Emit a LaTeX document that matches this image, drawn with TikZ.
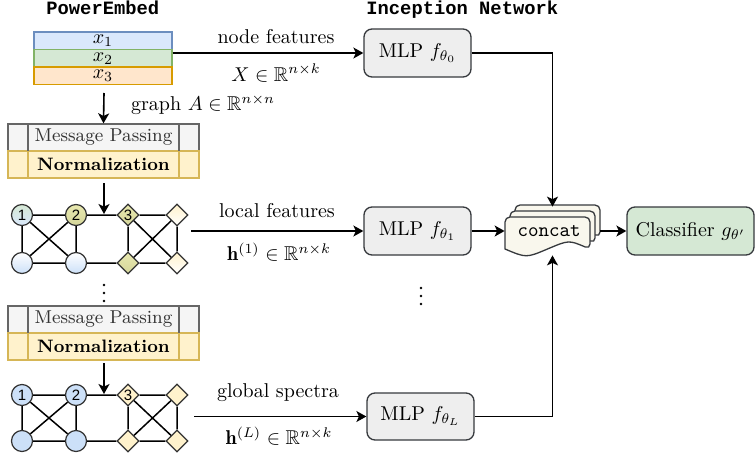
\documentclass[tikz,border=0pt]{standalone}
\usepackage{amsmath,amssymb}
\usepackage{fontspec}
\newfontfamily\arialfont{Liberation Sans}
\newfontfamily\courfont{Liberation Mono}
\usetikzlibrary{arrows.meta,shapes.geometric,calc}
\definecolor{boxline}{HTML}{36393D}
\definecolor{mlpfill}{HTML}{EEEEEE}
\definecolor{clsfill}{HTML}{D5E8D4}
\definecolor{mpfill}{HTML}{F5F5F5}
\definecolor{mpline}{HTML}{666666}
\definecolor{mptext}{HTML}{333333}
\definecolor{normfill}{HTML}{FFF2CC}
\definecolor{normline}{HTML}{D6B656}
\definecolor{bluef}{HTML}{DAE8FC}
\definecolor{bluel}{HTML}{6C8EBF}
\definecolor{greenf}{HTML}{D5E8D4}
\definecolor{greenl}{HTML}{82B366}
\definecolor{orangef}{HTML}{FFE6CC}
\definecolor{orangel}{HTML}{D79B00}
\definecolor{docfill}{HTML}{F9F7ED}
\definecolor{gline}{HTML}{333333}
\definecolor{gblue}{HTML}{CCE0F8}
\definecolor{olive}{HTML}{E8E8B0}
\definecolor{olivedk}{HTML}{D5D69A}
\newcommand{\docpath}[4]{% x y w h
  \path[draw=boxline, fill=docfill, line width=0.65pt, rounded corners=2.5pt]
    (#1,#2+#4-4) -- (#1,#2) -- (#1+#3,#2) -- (#1+#3,#2+#4-4) [sharp corners]
    .. controls (#1+0.75*#3,#2+#4-13) .. (#1+0.5*#3,#2+#4-4)
    .. controls (#1+0.25*#3,#2+#4+5) .. (#1,#2+#4-4) -- cycle;}
\begin{document}
\begin{tikzpicture}[x=0.5pt,y=-0.5pt,
  arr/.style={draw=black, line width=0.8pt, -{Stealth[length=5pt,width=5.5pt,inset=1.3pt]}},
  mlp/.style={draw=boxline, fill=mlpfill, rounded corners=4pt, line width=0.65pt,
    minimum width=53.5pt, minimum height=24pt, inner sep=0pt, font=\fontsize{10}{12}\selectfont},
  lbl/.style={inner sep=0pt, font=\fontsize{10}{12}\selectfont},
  title/.style={inner sep=0pt, anchor=base west, font=\courfont\bfseries\fontsize{9.4}{11}\selectfont},
  stackrow/.style={line width=0.65pt, minimum width=69pt, minimum height=8.75pt, inner sep=0pt, font=\fontsize{10}{11}\selectfont},
  mprow/.style={draw=mpline, fill=mpfill, line width=0.65pt, minimum width=95.5pt, minimum height=13.5pt,
    inner sep=0pt, text=mptext, font=\fontsize{9.3}{11}\selectfont},
  normrow/.style={draw=normline, fill=normfill, line width=0.65pt, minimum width=95.5pt, minimum height=13.5pt,
    inner sep=0pt, font=\bfseries\fontsize{9}{11}\selectfont},
  gcirc/.style={circle, draw=gline, line width=0.6pt, minimum size=10.5pt, inner sep=0pt,
    font=\arialfont\fontsize{7.5}{8}\selectfont},
  gdiam/.style={diamond, aspect=1, draw=gline, line width=0.6pt, minimum size=11pt, inner sep=0pt,
    font=\arialfont\fontsize{7.5}{8}\selectfont},
  gedge/.style={draw=black, line width=0.75pt},
  dot/.style={fill=black, draw=none}
]
\useasboundingbox (0,0) rectangle (756,461);

% titles
\node[title] (t1) at (46,14.5) {PowerEmbed};
\node[title] (t2) at (366,14.5) {Inception Network};

% feature stack
\node[stackrow, draw=bluel, fill=bluef] (x1) at (103,40.75) {$x_1$};
\node[stackrow, draw=greenl, fill=greenf] (x2) at (103,58.25) {$x_2$};
\node[stackrow, draw=orangel, fill=orangef] (x3) at (103,75.75) {$x_3$};

% MLPs and classifier
\node[mlp] (mlp0) at (417.5,53) {MLP $f_{\theta_0}$};
\node[mlp] (mlp1) at (417.5,231) {MLP $f_{\theta_1}$};
\node[mlp, minimum height=23.5pt] (mlpL) at (420.5,416.5) {MLP $f_{\theta_L}$};
\node[mlp, fill=clsfill, minimum width=63.5pt] (cls) at (690.5,231) {Classifier $g_{\theta'}$};

% concat (multiple documents)
\docpath{515}{205}{85}{36}
\docpath{510}{211}{85}{36}
\docpath{505}{217}{85}{36}
\node[minimum width=47.5pt, minimum height=24pt, inner sep=0pt] (concat) at (552.5,231) {};
\node[inner sep=0pt, font=\ttfamily\fontsize{10}{12}\selectfont] (concattxt) at (549,231) {concat};

% arrows inception network
\draw[arr] (x2.east |- mlp0.west) -- (mlp0.west);
\draw[arr] (mlp0.east) -| (concat.north);
\draw[arr] (mlp1.east) -- (concat.west);
\draw[arr] (mlpL.east) -| (concat.south);
\draw[arr] (concat.east) -- (cls.west);

\node[lbl] (lnf) at (276,37) {node features};
\node[lbl] (lX) at (276,73) {$X \in \mathbb{R}^{n\times k}$};
\node[lbl] (lg) at (203,105) {graph $A \in \mathbb{R}^{n\times n}$};
\node[lbl] (llf) at (277,211) {local features};
\node[lbl] (lh1) at (279,252) {$\mathbf{h}^{(1)} \in \mathbb{R}^{n\times k}$};
\node[lbl] (lgs) at (278,393) {global spectra};
\node[lbl] (lhL) at (279,436) {$\mathbf{h}^{(L)} \in \mathbb{R}^{n\times k}$};

\coordinate (lf) at (191,231);
\coordinate (gs) at (194,416.5);
\draw[arr] (lf) -- (mlp1.west);
\draw[arr] (gs) -- (mlpL.west);

% vertical dots
\foreach \yy in {285,293,301} \fill[dot] (104,\yy) circle (0.65pt);
\foreach \yy in {288,296,304} \fill[dot] (421,\yy) circle (0.65pt);

% block 1
\node[mprow] (mp1) at (103.5,137.5) {Message Passing};
\node[normrow] (nr1) at (103.5,164.5) {Normalization};
\draw[mpline, line width=0.65pt] (28,124) -- (28,151) (179,124) -- (179,151);
\draw[normline, line width=0.65pt] (28,151) -- (28,178) (179,151) -- (179,178);
% block 2
\node[mprow] (mp2) at (103.5,319.5) {Message Passing};
\node[normrow] (nr2) at (103.5,346.5) {Normalization};
\draw[mpline, line width=0.65pt] (28,306) -- (28,333) (179,306) -- (179,333);
\draw[normline, line width=0.65pt] (28,333) -- (28,360) (179,333) -- (179,360);

% graph 1
\node[gcirc, top color=greenf, bottom color=bluef] (a1) at (22,215) {1};
\node[gcirc, top color=olive, bottom color=olivedk] (a2) at (76,215) {2};
\node[gdiam, top color=olive, bottom color=olivedk] (a3) at (128,215) {3};
\node[gdiam, top color=normfill, bottom color=white] (a4) at (177,215) {};
\node[gcirc, top color=white, bottom color=gblue] (ab1) at (22,263) {};
\node[gcirc, top color=white, bottom color=gblue] (ab2) at (76,263) {};
\node[gdiam, top color=olive, bottom color=olivedk] (ab3) at (128,263) {};
\node[gdiam, top color=normfill, bottom color=white] (ab4) at (177,263) {};
\draw[gedge] (a1) -- (a2) (a2) -- (a3) (a3) -- (a4) (a1) -- (ab1) (a2) -- (ab2)
  (a1) -- (ab2) (a2) -- (ab1) (ab1) -- (ab2) (ab2) -- (ab3) (ab3) -- (ab4)
  (a3) -- (ab3) (a4) -- (ab4) (a3) -- (ab4) (a4) -- (ab3);

% graph 2
\node[gcirc, fill=gblue] (c1) at (22,395) {1};
\node[gcirc, fill=gblue] (c2) at (76,395) {2};
\node[gdiam, fill=normfill] (c3) at (128,395) {3};
\node[gdiam, fill=normfill] (c4) at (177,395) {};
\node[gcirc, fill=gblue] (cb1) at (22,441) {};
\node[gcirc, fill=gblue] (cb2) at (76,441) {};
\node[gdiam, fill=normfill] (cb3) at (128,441) {};
\node[gdiam, fill=normfill] (cb4) at (177,441) {};
\draw[gedge] (c1) -- (c2) (c2) -- (c3) (c3) -- (c4) (c1) -- (cb1) (c2) -- (cb2)
  (c1) -- (cb2) (c2) -- (cb1) (cb1) -- (cb2) (cb2) -- (cb3) (cb3) -- (cb4)
  (c3) -- (cb3) (c4) -- (cb4) (c3) -- (cb4) (c4) -- (cb3);

% vertical arrows left
\coordinate (s0) at (104,93);
\draw[arr] (s0) -- (mp1.north);
\coordinate (o1) at (104,183);
\coordinate (g1in) at (104,214);
\draw[arr] (o1) -- (g1in);
\coordinate (o2) at (104,363);
\coordinate (g2in) at (104,394);
\draw[arr] (o2) -- (g2in);
\end{tikzpicture}
\end{document}
